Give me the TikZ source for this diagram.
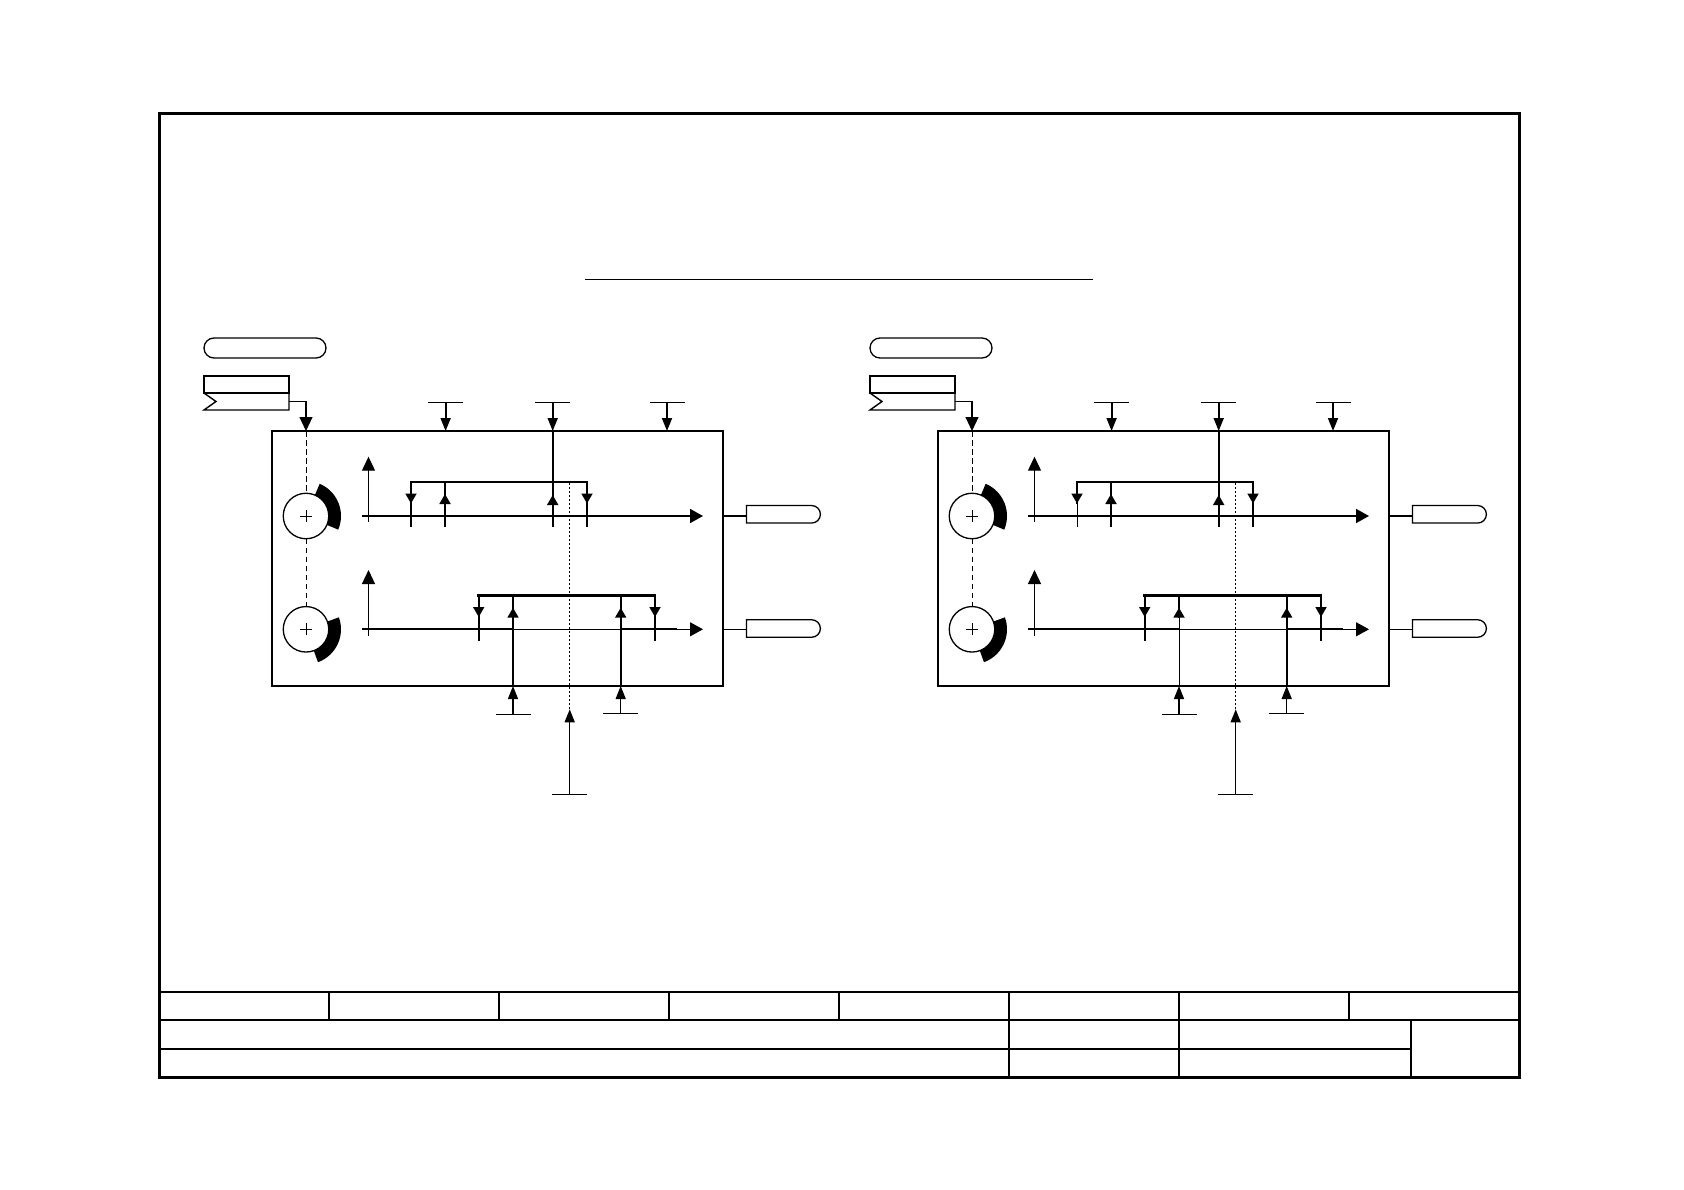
\documentclass[tikz,border=0pt]{standalone}
\usetikzlibrary{arrows.meta,calc,shapes.misc}
\tikzset{
  every node/.style={inner sep=0pt,outer sep=0pt},
  frameline/.style={line width=3pt,line cap=rect},
  gridline/.style={line width=2pt},
  gridheavy/.style={line width=2.7pt},
  thinline/.style={line width=1.1pt},
  mainline/.style={line width=1.8pt},
  heavyline/.style={line width=2.5pt},
  boxline/.style={line width=1.8pt},
  pillbox/.style={draw,line width=1.3pt,rounded rectangle,minimum width=122pt,minimum height=20pt},
  tagbox/.style={draw,line width=1.4pt,rectangle,minimum width=85pt,minimum height=17pt},
  outbox/.style={draw,line width=1.3pt,rounded rectangle,rounded rectangle left arc=none,minimum width=74pt,minimum height=17.5pt},
  unitbox/.style={draw,line width=2pt,rectangle,minimum width=451pt,minimum height=255pt},
  dialnode/.style={draw,line width=1.3pt,circle,fill=white,minimum size=45.5pt},
  bigtip/.style={-{Triangle[length=14pt,width=13pt]}},
  sidetip/.style={-{Triangle[length=13pt,width=14pt]}},
  tbartip/.style={-{Triangle[length=13pt,width=10pt]}},
  ticktip/.style={-{Triangle[length=10pt,width=11pt]}},
  dashline/.style={line width=1pt,dash pattern=on 5.5pt off 3.5pt},
  dotline/.style={line width=1.5pt,dash pattern=on 2.2pt off 1.8pt},
}
% #1 name prefix, #2 horizontal offset, #3 width of the thinner strokes of this block
\newcommand{\unitblock}[3]{%
\begin{scope}[xshift=#2pt]
  % labels
  \node[pillbox] (#1pill) at (265,348) {};
  \node[tagbox] (#1tagtop) at (246.5,384.5) {};
  \node (#1tagbot) at (246.5,401.5) [minimum width=85pt,minimum height=17pt] {};
  \draw[line width=1.4pt,line join=miter] (#1tagbot.north west) -- (216,401.5) -- (#1tagbot.south west) -- (#1tagbot.south east) -- (#1tagbot.north east);
  % main box
  \node[unitbox] (#1box) at (497.8,558.5) {};
  % dials
  \coordinate (#1c1) at (306,516);
  \coordinate (#1c2) at (306,629.3);
  \fill ($(#1c1)+(67:35pt)$) arc[start angle=67,end angle=-23,radius=35pt] -- ($(#1c1)+(-23:20pt)$) arc[start angle=-23,end angle=67,radius=20pt] -- cycle;
  \fill ($(#1c2)+(20:35pt)$) arc[start angle=20,end angle=-70,radius=35pt] -- ($(#1c2)+(-70:20pt)$) arc[start angle=-70,end angle=20,radius=20pt] -- cycle;
  \node[dialnode] (#1d1) at (#1c1) {};
  \node[dialnode] (#1d2) at (#1c2) {};
  \draw[line width=1pt] ($(#1c1)+(-6,0)$) -- ($(#1c1)+(6,0)$) ($(#1c1)+(0,-6)$) -- ($(#1c1)+(0,6)$);
  \draw[line width=1pt] ($(#1c2)+(-6,0)$) -- ($(#1c2)+(6,0)$) ($(#1c2)+(0,-6)$) -- ($(#1c2)+(0,6)$);
  % input from the tag
  \coordinate (#1in) at (306,431);
  \draw[thinline,bigtip] (#1tagbot.east) -| (#1in);
  \draw[dashline] (#1in) -- (#1d1.north);
  \draw[dashline] (#1d1.south) -- (#1d2.north);
  % axes, row 1
  \coordinate (#1a1b) at (368.5,522);
  \coordinate (#1a1t) at (368.5,456.7);
  \draw[line width=1.2pt,bigtip] (#1a1b) -- (#1a1t);
  \coordinate (#1h1l) at (362,516);
  \coordinate (#1h1r) at (703,516);
  \draw[mainline,sidetip] (#1h1l) -- (#1h1r);
  % axes, row 2
  \coordinate (#1a2b) at (368.5,636);
  \coordinate (#1a2t) at (368.5,570);
  \draw[line width=1.2pt,bigtip] (#1a2b) -- (#1a2t);
  \coordinate (#1h2l) at (362,629.3);
  \coordinate (#1h2a) at (513,629.3);
  \coordinate (#1h2b) at (620.7,629.3);
  \coordinate (#1h2c) at (677,629.3);
  \coordinate (#1h2r) at (703,629.3);
  \draw[mainline] (#1h2l) -- (#1h2a);
  \draw[thinline] (#1h2a) -- (#1h2b);
  \draw[mainline] (#1h2b) -- (#1h2c);
  \draw[thinline,sidetip] (#1h2c) -- (#1h2r);
  % bracket, row 1
  \coordinate (#1b1a) at (411,481.7);
  \coordinate (#1b1b) at (445,481.7);
  \coordinate (#1b1c) at (552.7,481.7);
  \coordinate (#1b1d) at (587,481.7);
  \coordinate (#1t1a) at (411,527);
  \coordinate (#1t1b) at (445,527);
  \coordinate (#1t1c) at (552.7,527);
  \coordinate (#1t1d) at (587,527);
  \draw[mainline,line cap=rect] (#1b1a) -- (#1b1d);
  \draw[mainline] (#1b1a) -- (411,504);
  \draw[line width=#3pt] (411,504) -- (#1t1a);
  \draw[mainline] (#1b1b) -- (#1t1b);
  \draw[mainline] (#1b1c) -- (#1t1c);
  \draw[mainline] (#1b1d) -- (#1t1d);
  \draw[mainline,ticktip] (411,490) -- (411,503.5);
  \draw[mainline,ticktip] (445,507) -- (445,494);
  \draw[mainline,ticktip] (552.7,508) -- (552.7,495);
  \draw[mainline,ticktip] (587,490) -- (587,503.5);
  % bracket, row 2
  \coordinate (#1b2a) at (478.7,595.3);
  \coordinate (#1b2b) at (513,595.3);
  \coordinate (#1b2c) at (620.7,595.3);
  \coordinate (#1b2d) at (655,595.3);
  \coordinate (#1t2a) at (478.7,640.7);
  \coordinate (#1t2d) at (655,640.7);
  \draw[heavyline,line cap=rect] (#1b2a) -- (#1b2d);
  \draw[mainline] (#1b2a) -- (#1t2a);
  \draw[mainline] (#1b2d) -- (#1t2d);
  \draw[mainline,ticktip] (478.7,604) -- (478.7,617);
  \draw[mainline,ticktip] (655,604) -- (655,617);
  % inputs from above
  \coordinate (#1up1) at (445.6,402.7);
  \coordinate (#1up2) at (552.7,402.7);
  \coordinate (#1up3) at (667,402.7);
  \draw[thinline] (428.1,402.7) -- (463.1,402.7);
  \draw[thinline] (535.2,402.7) -- (570.2,402.7);
  \draw[thinline] (649.5,402.7) -- (684.5,402.7);
  \draw[mainline,tbartip] (#1up1) -- (445.6,431);
  \draw[mainline,tbartip] (#1up2) -- (552.7,431);
  \draw[mainline,tbartip] (#1up3) -- (667,431);
  \draw[mainline] (552.7,431) -- (#1b1c);
  % inputs from below
  \coordinate (#1lo1) at (513,714.3);
  \coordinate (#1lo2) at (620.7,713.3);
  \coordinate (#1lo3) at (569.7,794.5);
  \draw[thinline] (495.5,714.3) -- (530.5,714.3);
  \draw[thinline] (603.2,713.3) -- (638.2,713.3);
  \draw[thinline] (552.2,794.5) -- (587.2,794.5);
  \draw[line width=1.4pt,tbartip] (#1lo1) -- (513,686);
  \draw[line width=1.4pt,tbartip] (#1lo2) -- (620.7,686);
  \draw[line width=1.4pt,tbartip] (#1lo3) -- (569.7,709.3);
  \draw[line width=#3pt] (513,686) -- (513,617);
  \draw[mainline] (513,617) -- (#1b2b);
  \draw[mainline] (620.7,686) -- (#1b2c);
  \draw[mainline,ticktip] (513,618) -- (513,607.7);
  \draw[mainline,ticktip] (620.7,618) -- (620.7,607.7);
  \draw[dotline] (569.7,483) -- (569.7,709.3);
  % outputs
  \node[outbox] (#1o1) at (783.4,514.3) {};
  \node[outbox] (#1o2) at (783.4,628.5) {};
  \draw[mainline] (723,516) -- (746,516);
  \draw[thinline] (723,629.3) -- (746,629.3);
\end{scope}}
\begin{document}
\begin{tikzpicture}[x=1pt,y=-1pt]
  \useasboundingbox[fill=white] (0,0) rectangle (1684,1190);
  % sheet frame
  \draw[frameline] (159,113.3) rectangle (1519,1077);
  % title strip
  \draw[gridline] (159,991.7) -- (1519,991.7);
  \draw[gridheavy] (159,1020) -- (1519,1020);
  \draw[gridline] (159,1049) -- (1411,1049);
  \foreach \xv in {329,499,669,839,1009,1179,1349} {\draw[gridline] (\xv,991.7) -- (\xv,1020);}
  \draw[gridline] (1009,1020) -- (1009,1077);
  \draw[gridline] (1179,1020) -- (1179,1077);
  \draw[gridheavy] (1411,1020) -- (1411,1077);
  % heading rule
  \draw[line width=0.8pt] (585,279.5) -- (1093,279.5);
  \unitblock{a}{0}{1.8}
  \unitblock{b}{666}{1}
\end{tikzpicture}
\end{document}
